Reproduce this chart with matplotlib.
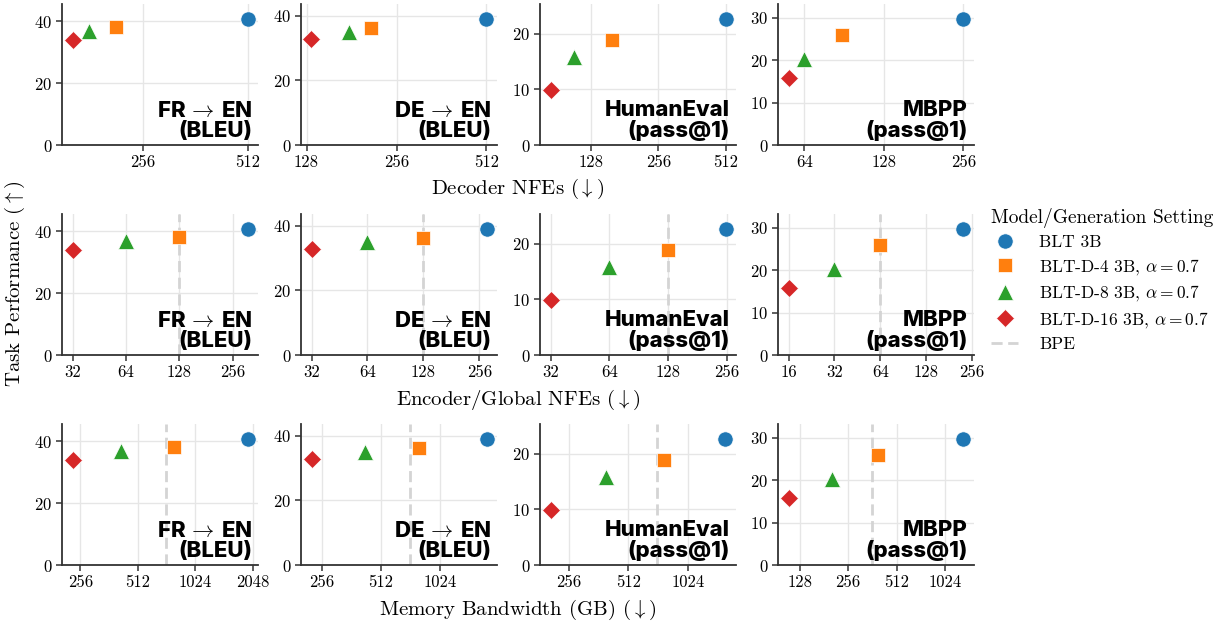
"""
BLT vs BLT-D: task performance against decoder NFEs, encoder/global NFEs
and memory bandwidth, for four benchmarks.
"""

import numpy as np
import matplotlib
matplotlib.use("Agg")
import matplotlib.pyplot as plt
from matplotlib.ticker import FixedLocator, FuncFormatter, MultipleLocator, NullLocator
from matplotlib.lines import Line2D

plt.rcParams["font.family"] = "serif"
plt.rcParams["font.serif"] = ["cmr10"]
plt.rcParams["mathtext.fontset"] = "cm"
plt.rcParams["axes.formatter.use_mathtext"] = True

# ---------------------------------------------------------------------------
# Data
# ---------------------------------------------------------------------------

TASKS = ["FR$\\,\\rightarrow\\,$EN\n(BLEU)", "DE$\\,\\rightarrow\\,$EN\n(BLEU)",
         "HumanEval\n(pass@1)", "MBPP\n(pass@1)"]
MODELS = ["BLT 3B", "BLT-D-4 3B, $\\alpha=0.7$",
          "BLT-D-8 3B, $\\alpha=0.7$", "BLT-D-16 3B, $\\alpha=0.7$"]

# task performance, one row per model, columns = tasks
SCORE_BLT = [40.7, 38.9, 22.6, 29.7]
SCORE_D4 = [38.1, 36.3, 18.9, 26.0]
SCORE_D8 = [36.7, 34.9, 15.8, 20.3]
SCORE_D16 = [34.0, 32.7, 9.8, 15.8]

# decoder NFEs
DEC_BLT = [512, 512, 512, 256]
DEC_D4 = [214, 211, 158, 89]
DEC_D8 = [178, 177, 107, 63.5]
DEC_D16 = [160, 133, 84, 55.7]

# encoder / global NFEs
ENC_BLT = [310, 280, 252, 225]
ENC_D4 = [128, 128, 128, 64]
ENC_D8 = [64, 64, 64, 32]
ENC_D16 = [32, 32, 32, 16]
ENC_BPE = [128, 128, 128, 64]

# memory bandwidth (GB)
MEM_BLT = [1925, 1772, 1587, 1330]
MEM_D4 = [796, 797, 777, 394]
MEM_D8 = [419, 422, 397, 202]
MEM_D16 = [233, 226, 207, 109]
MEM_BPE = [720, 723, 718, 362]

Y_STEP = [20, 20, 10, 10]

ROW_LABELS = ["Decoder NFEs ($\\downarrow$)",
              "Encoder/Global NFEs ($\\downarrow$)",
              "Memory Bandwidth (GB) ($\\downarrow$)"]

# ---------------------------------------------------------------------------
# Style
# ---------------------------------------------------------------------------

COLORS = ["#1f77b4", "#ff7f0e", "#2ca02c", "#d62728"]
MARKERS = ["o", "s", "^", "D"]
MSIZES = [11, 10, 11, 9.5]
BPE_COLOR = "#d4d4d4"
SPINE = "#333333"

scores = [SCORE_BLT, SCORE_D4, SCORE_D8, SCORE_D16]
rows = [
    ([DEC_BLT, DEC_D4, DEC_D8, DEC_D16], None),
    ([ENC_BLT, ENC_D4, ENC_D8, ENC_D16], ENC_BPE),
    ([MEM_BLT, MEM_D4, MEM_D8, MEM_D16], MEM_BPE),
]

W, H = 1219, 624
fig = plt.figure(figsize=(W / 100, H / 100), dpi=100)

col_left = [62, 301, 540, 778]
ax_w = 196
row_top = [4, 214, 424]
ax_h = 141

for r, (xs_models, bpe) in enumerate(rows):
    for c in range(4):
        ax = fig.add_axes([col_left[c] / W, 1 - (row_top[r] + ax_h) / H,
                           ax_w / W, ax_h / H])
        for ax_s in ("top", "right"):
            ax.spines[ax_s].set_visible(False)
        for ax_s in ("left", "bottom"):
            ax.spines[ax_s].set_color(SPINE)
            ax.spines[ax_s].set_linewidth(1.3)

        xs = [xs_models[m][c] for m in range(4)]
        ys = [scores[m][c] for m in range(4)]
        for m in range(4):
            ax.plot(xs[m], ys[m], linestyle="none", marker=MARKERS[m],
                    markersize=MSIZES[m], color=COLORS[m],
                    markeredgecolor="white", markeredgewidth=0.5, zorder=4)
        if bpe is not None:
            ax.axvline(bpe[c], color=BPE_COLOR, linestyle=(0, (4, 2)),
                       linewidth=2, zorder=2)

        ax.set_xscale("log", base=2)
        lo, hi = np.log2(min(xs)), np.log2(max(xs))
        pad = 0.06 * (hi - lo)
        ax.set_xlim(2 ** (lo - pad), 2 ** (hi + pad))
        ticks = [2 ** k for k in range(0, 14)
                 if lo - pad <= k <= hi + pad]
        ax.xaxis.set_major_locator(FixedLocator(ticks))
        ax.xaxis.set_minor_locator(NullLocator())
        ax.xaxis.set_major_formatter(FuncFormatter(lambda v, p: f"{int(round(v))}"))

        ax.set_ylim(0, max(ys) * 1.12)
        ax.yaxis.set_major_locator(MultipleLocator(Y_STEP[c]))

        ax.grid(True, color="#e6e6e6", linewidth=1, zorder=0)
        ax.set_axisbelow(True)
        ax.tick_params(labelsize=12, length=4, width=1.1, color=SPINE, pad=3)

        ax.text(0.97, 0.03, TASKS[c], transform=ax.transAxes,
                ha="right", va="bottom", family="Inter", fontweight="heavy",
                fontsize=16, linespacing=1.0, zorder=5)

# row / axis labels
row_label_y = [189, 400, 610]
for lbl, y in zip(ROW_LABELS, row_label_y):
    fig.text(518 / W, 1 - y / H, lbl, ha="center", va="center", fontsize=15)
fig.text(15 / W, 1 - 284 / H, "Task Performance ($\\uparrow$)", rotation=90,
         ha="center", va="center", fontsize=15)

# legend
handles = [Line2D([], [], linestyle="none", marker=MARKERS[m], markersize=MSIZES[m],
                  color=COLORS[m], markeredgecolor="white", markeredgewidth=0.5)
           for m in range(4)]
handles.append(Line2D([], [], color=BPE_COLOR, linestyle=(0, (4, 2)), linewidth=2))
leg = fig.legend(handles, MODELS + ["BPE"], title="Model/Generation Setting",
                 loc="center left", bbox_to_anchor=(975 / W, 1 - 280 / H),
                 frameon=False, fontsize=12.5, title_fontsize=14,
                 handlelength=1.6, handletextpad=1.2, labelspacing=0.38,
                 alignment="left")

fig.savefig("out.png", dpi=100)
